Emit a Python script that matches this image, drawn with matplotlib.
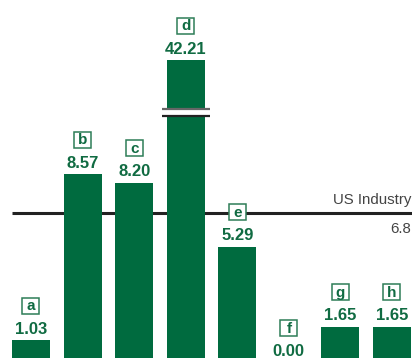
import matplotlib
matplotlib.use("Agg")
import matplotlib.pyplot as plt
from matplotlib.patches import Rectangle

letters = ["a", "b", "c", "d", "e", "f", "g", "h"]
values = [1.03, 8.57, 8.20, 42.21, 5.29, 0.00, 1.65, 1.65]
industry_value = 6.8
industry_label = "US Industry"
break_cap = 13.77  # displayed height for broken bar

GREEN = "#006b3f"
TEXT_GREEN = "#106b42"

fig = plt.figure(figsize=(4.12, 3.58), dpi=100)
ax = fig.add_axes([0, 0, 1, 1])
ax.set_xlim(-0.601, 7.388)
ax.set_ylim(0.227, 16.5)
ax.axis("off")

px_x = (7.388 + 0.601) / 412.0
px_y = (16.5 - 0.227) / 358.0

xs = list(range(len(values)))
shown = [min(v, break_cap) for v in values]
ax.bar(xs, shown, width=0.737, color=GREEN, zorder=2)

# industry line
ax.plot([-0.601 + 12 * px_x, 7.388], [industry_value, industry_value],
        color="#222222", lw=2.2, zorder=1, solid_capstyle="butt")
ax.text(7.388 - 1 * px_x, industry_value + 6 * px_y, industry_label,
        ha="right", va="bottom", fontsize=10.8, family="Liberation Sans",
        color="#444444")
ax.text(7.388 - 1 * px_x, industry_value - 9 * px_y, f"{industry_value}",
        ha="right", va="top", fontsize=10.8, family="Liberation Sans",
        color="#444444")

# break marks on the tall bar
for i, v in enumerate(values):
    if v > break_cap:
        yc = (363 - 112.5) / 22.0
        x0 = i - 0.737 / 2 - 5 * px_x
        w = 0.737 + 10 * px_x
        ax.add_patch(Rectangle((x0, yc - 3.5 * px_y), w, 7 * px_y,
                               facecolor="white", edgecolor="none", zorder=3))
        ax.plot([x0, x0 + w], [yc + 3.5 * px_y] * 2, color="#666666", lw=1.6, zorder=4,
                solid_capstyle="butt")
        ax.plot([x0, x0 + w], [yc - 3.5 * px_y] * 2, color="#222222", lw=1.6, zorder=4,
                solid_capstyle="butt")

# value labels and letter boxes
for i, (s, v, L) in enumerate(zip(shown, values, letters)):
    ax.text(i, s + 6.5 * px_y, f"{v:.2f}", ha="center", va="baseline",
            fontsize=12, fontweight="bold", family="Liberation Sans",
            color=TEXT_GREEN, zorder=5)
    bw, bh = 17 * px_x, 16 * px_y
    yc = s + 34.5 * px_y
    ax.add_patch(Rectangle((i - bw / 2, yc - bh / 2), bw, bh, facecolor="white",
                           edgecolor="#2e7d57", lw=1.1, zorder=5))
    ax.text(i, yc - 0.5 * px_y, L, ha="center", va="center", fontsize=11,
            fontweight="bold", family="Liberation Sans", color=TEXT_GREEN, zorder=6)

fig.savefig("out.png", dpi=100)
